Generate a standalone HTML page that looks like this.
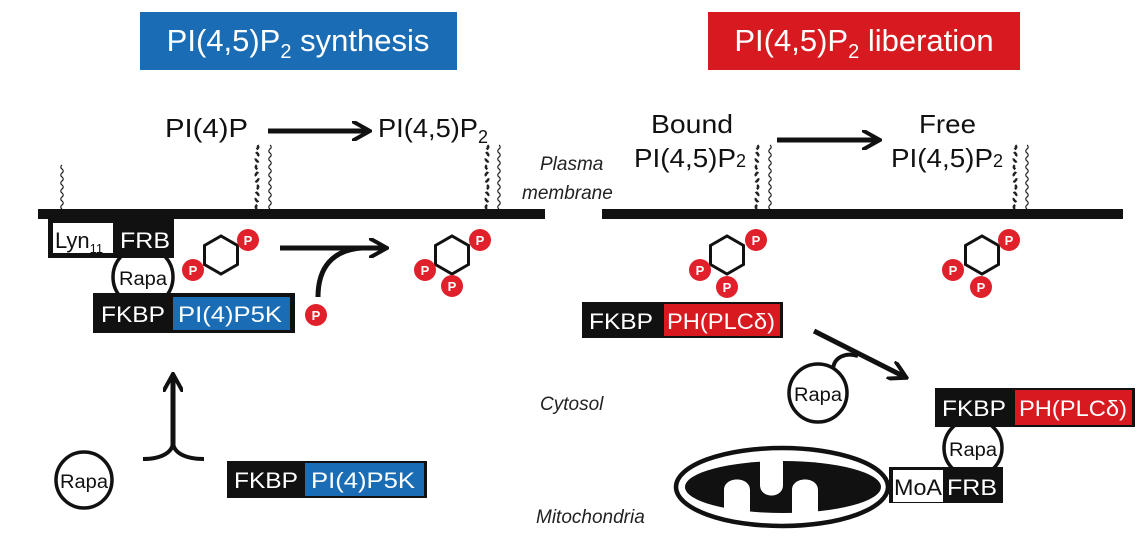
<!DOCTYPE html>
<html><head><meta charset="utf-8"><style>
html,body{margin:0;padding:0;background:#fff;}
svg{display:block;font-family:"Liberation Sans",Arial,sans-serif;}
</style></head><body>
<svg id="s" width="1142" height="540" viewBox="0 0 1142 540">
<g>
<rect x="140" y="12" width="317" height="58" fill="#1a6db5"/>
<text x="298" y="51" text-anchor="middle" font-size="31" fill="#fff">PI(4,5)P<tspan font-size="20" dy="7">2</tspan><tspan dy="-7"> synthesis</tspan></text>
</g>
<g>
<rect x="708" y="12" width="312" height="58" fill="#d71920"/>
<text x="864" y="51" text-anchor="middle" font-size="31" fill="#fff">PI(4,5)P<tspan font-size="20" dy="7">2</tspan><tspan dy="-7"> liberation</tspan></text>
</g>
<g font-size="26" fill="#111">
<text x="165" y="137" textLength="83" lengthAdjust="spacingAndGlyphs">PI(4)P</text>
<text x="378" y="137"><tspan textLength="100" lengthAdjust="spacingAndGlyphs">PI(4,5)P</tspan><tspan font-size="18" dy="6">2</tspan></text>
<text x="651" y="133" textLength="82" lengthAdjust="spacingAndGlyphs">Bound</text>
<text x="634" y="167"><tspan textLength="102" lengthAdjust="spacingAndGlyphs">PI(4,5)P</tspan><tspan font-size="18">2</tspan></text>
<text x="919" y="133" textLength="57" lengthAdjust="spacingAndGlyphs">Free</text>
<text x="891" y="167"><tspan textLength="102" lengthAdjust="spacingAndGlyphs">PI(4,5)P</tspan><tspan font-size="18">2</tspan></text>
</g>
<g font-size="19" font-style="italic" fill="#222">
<text x="540" y="170">Plasma</text>
<text x="522" y="199">membrane</text>
<text x="540" y="410">Cytosol</text>
<text x="536" y="523">Mitochondria</text>
</g>
<defs><marker id="ah" viewBox="0 0 10 10" refX="7" refY="5" markerWidth="4" markerHeight="4" orient="auto"><path d="M0,0 L9,5 L0,10" fill="none" stroke="#111" stroke-width="2"/></marker></defs>
<g stroke="#111" stroke-width="5" fill="none">
<line x1="268" y1="131" x2="366" y2="131" marker-end="url(#ah)"/>
<line x1="777" y1="140" x2="876" y2="140" marker-end="url(#ah)"/>
<line x1="280" y1="248" x2="383" y2="248" marker-end="url(#ah)"/>
<path d="M318,297 C318,268 332,250 362,248"/>
<line x1="814" y1="331" x2="903" y2="376" marker-end="url(#ah)"/>
<path d="M833,369 C834,357 846,352 858,356" stroke-width="4"/>
<line x1="173" y1="446" x2="173" y2="378" marker-end="url(#ah)"/>
<path d="M143,459 C162,459 173,452 173,442 C173,452 184,459 204,459" stroke-width="4"/>
</g>
<rect x="38" y="209" width="507" height="10" fill="#111"/>
<rect x="602" y="209" width="521" height="10" fill="#111"/>
<g id="tails" fill="none" stroke="#222" stroke-width="1.2"></g>
<!-- left complex -->
<g font-size="22">
<circle cx="143" cy="277" r="30" fill="#fff" stroke="#111" stroke-width="3.5"/>
<text x="143" y="285" text-anchor="middle" font-size="19" fill="#111" textLength="48" lengthAdjust="spacingAndGlyphs">Rapa</text>
<rect x="48" y="218" width="126" height="40" fill="#111"/>
<rect x="53" y="223" width="60" height="30" fill="#fff"/>
<text x="55" y="248" fill="#111">Lyn<tspan font-size="13" dy="5">11</tspan></text>
<text x="120" y="248" fill="#fff" textLength="50" lengthAdjust="spacingAndGlyphs">FRB</text>
<rect x="93" y="293" width="202" height="40" fill="#111"/>
<rect x="173" y="297" width="117" height="33" fill="#1a6db5"/>
<text x="101" y="322" fill="#fff" textLength="64" lengthAdjust="spacingAndGlyphs">FKBP</text>
<text x="178" y="322" fill="#fff" textLength="104" lengthAdjust="spacingAndGlyphs">PI(4)P5K</text>
</g>
<g font-size="22">
<circle cx="84" cy="480" r="28" fill="#fff" stroke="#111" stroke-width="3.5"/>
<text x="84" y="488" text-anchor="middle" font-size="19" fill="#111" textLength="48" lengthAdjust="spacingAndGlyphs">Rapa</text>
<rect x="227" y="461" width="200" height="37" fill="#111"/>
<rect x="305" y="463" width="119" height="33" fill="#1a6db5"/>
<text x="234" y="488" fill="#fff" textLength="64" lengthAdjust="spacingAndGlyphs">FKBP</text>
<text x="311" y="488" fill="#fff" textLength="104" lengthAdjust="spacingAndGlyphs">PI(4)P5K</text>
</g>
<g font-size="22">
<rect x="582" y="302" width="201" height="36" fill="#111"/>
<rect x="664" y="304" width="116" height="32" fill="#d71920"/>
<text x="589" y="329" fill="#fff" textLength="64" lengthAdjust="spacingAndGlyphs">FKBP</text>
<text x="667" y="329" fill="#fff" textLength="108" lengthAdjust="spacingAndGlyphs">PH(PLCδ)</text>
</g>
<g>
<circle cx="818" cy="393" r="29" fill="#fff" stroke="#111" stroke-width="3.5"/>
<text x="818" y="401" text-anchor="middle" font-size="19" fill="#111" textLength="48" lengthAdjust="spacingAndGlyphs">Rapa</text>
</g>
<g>
<ellipse cx="782" cy="487" rx="106" ry="39" fill="#fff" stroke="#111" stroke-width="4.5"/>
<ellipse cx="783" cy="487" rx="98" ry="26" fill="#111"/>
<path d="M724,514 L724,490 C724,476 750,476 750,490 L750,514 Z M792,514 L792,490 C792,476 818,476 818,490 L818,514 Z" fill="#fff"/>
<path d="M760,460 L760,485 C760,499 783,499 783,485 L783,460 Z" fill="#fff"/>
</g>
<g font-size="22">
<circle cx="973" cy="448" r="29" fill="#fff" stroke="#111" stroke-width="3.5"/>
<text x="973" y="456" text-anchor="middle" font-size="19" fill="#111" textLength="48" lengthAdjust="spacingAndGlyphs">Rapa</text>
<rect x="935" y="388" width="200" height="39" fill="#111"/>
<rect x="1015" y="390" width="117" height="35" fill="#d71920"/>
<text x="942" y="416" fill="#fff" textLength="64" lengthAdjust="spacingAndGlyphs">FKBP</text>
<text x="1019" y="416" fill="#fff" textLength="108" lengthAdjust="spacingAndGlyphs">PH(PLCδ)</text>
<rect x="889" y="467" width="114" height="36" fill="#111"/>
<rect x="893" y="470" width="50" height="32" fill="#fff"/>
<text x="894" y="495" fill="#111" textLength="48" lengthAdjust="spacingAndGlyphs">MoA</text>
<text x="947" y="495" fill="#fff" textLength="50" lengthAdjust="spacingAndGlyphs">FRB</text>
</g>
<g id="mols"></g>
</svg>
<script>
const NS='http://www.w3.org/2000/svg';
const hexes=[[221,255],[452,255],[727,255],[982,255]];
const phos=[[248,240],[193,270],[480,240],[425,270],[452,286],[756,240],[700,270],[727,287],[1009,240],[953,270],[981,287],[316,315]];
const tailsX=[257,270,487,499,757,770,1015,1027];
const m=document.getElementById('mols');
hexes.forEach(([cx,cy])=>{
 let pts=[];for(let i=0;i<6;i++){const a=Math.PI/6+i*Math.PI/3;pts.push((cx+19*Math.cos(a)).toFixed(1)+','+(cy+19*Math.sin(a)).toFixed(1));}
 const p=document.createElementNS(NS,'polygon');p.setAttribute('points',pts.join(' '));
 p.setAttribute('fill','none');p.setAttribute('stroke','#111');p.setAttribute('stroke-width','3');
 
 
 m.appendChild(p);
});
phos.forEach(([x,y])=>{
 const g=document.createElementNS(NS,'g');
 
 
 g.innerHTML=`<circle cx="${x}" cy="${y}" r="11" fill="#e0202a"/><text x="${x}" y="${y+5}" text-anchor="middle" font-size="13" font-weight="bold" fill="#fff">P</text>`;
 m.appendChild(g);
});
const t=document.getElementById('tails');
function tail(x,top,bold){
 let d=`M${x},209`;let i=0;for(let y=209;y>top;y-=4){d+=` q${(i++%2?2.5:-2.5)},-2 0,-4`;}
 const p=document.createElementNS(NS,'path');p.setAttribute('d',d);
 if(bold){p.setAttribute('stroke-width','2.5');p.setAttribute('stroke-dasharray','5 3');}
 
 
 t.appendChild(p);
}
tailsX.forEach((x,i)=>tail(x,148,i%2===0));
tail(62,165,false);
</script>
</body></html>
